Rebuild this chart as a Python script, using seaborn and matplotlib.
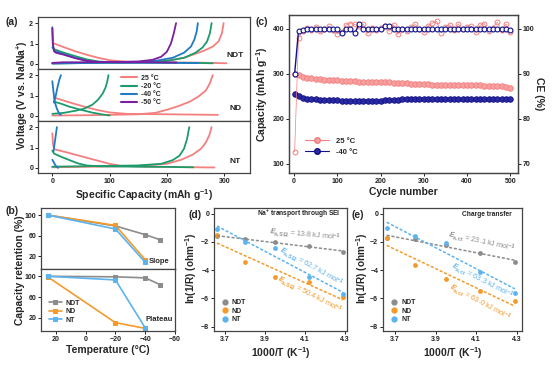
import matplotlib
matplotlib.use('Agg')
import matplotlib.pyplot as plt
from matplotlib.lines import Line2D
import seaborn as sns

# ---------------- (a) galvanostatic profiles: (capacity, voltage) ----------------
ndt_25_dis_cap = [3, 20, 40, 60, 80, 100, 130, 200, 260, 304]
ndt_25_dis_v = [1.0, 0.82, 0.62, 0.45, 0.3, 0.18, 0.1, 0.07, 0.06, 0.03]
ndt_25_chg_cap = [0, 50, 100, 150, 200, 230, 250, 265, 280, 290, 296, 299]
ndt_25_chg_v = [0.03, 0.05, 0.07, 0.09, 0.15, 0.3, 0.5, 0.65, 0.85, 1.1, 1.5, 2.0]
ndt_m20_dis_cap = [0, 3, 20, 40, 60, 80, 100, 150, 200, 250, 280]
ndt_m20_dis_v = [0.8, 0.72, 0.55, 0.38, 0.22, 0.12, 0.08, 0.07, 0.06, 0.05, 0.03]
ndt_m20_chg_cap = [0, 50, 100, 150, 200, 230, 250, 262, 270, 275, 278]
ndt_m20_chg_v = [0.02, 0.04, 0.06, 0.08, 0.15, 0.3, 0.55, 0.8, 1.1, 1.5, 2.0]
ndt_m40_dis_cap = [0, 1, 3, 20, 40, 60, 80, 120, 200, 255]
ndt_m40_dis_v = [1.8, 0.9, 0.65, 0.48, 0.3, 0.15, 0.08, 0.06, 0.05, 0.04]
ndt_m40_chg_cap = [0, 50, 100, 150, 180, 210, 230, 242, 248, 252, 254]
ndt_m40_chg_v = [0.02, 0.04, 0.06, 0.09, 0.15, 0.3, 0.55, 0.85, 1.2, 1.6, 2.0]
ndt_m50_dis_cap = [0, 1, 3, 6, 20, 40, 60, 80, 120, 180, 217]
ndt_m50_dis_v = [1.75, 1.0, 0.62, 0.55, 0.45, 0.28, 0.15, 0.1, 0.08, 0.08, 0.07]
ndt_m50_chg_cap = [0, 20, 50, 100, 150, 175, 190, 200, 207, 212, 216]
ndt_m50_chg_v = [0.05, 0.08, 0.08, 0.09, 0.12, 0.2, 0.35, 0.6, 1.0, 1.5, 2.0]

nd_25_dis_cap = [3, 20, 40, 60, 80, 100, 130, 200, 260, 289]
nd_25_dis_v = [0.9, 0.75, 0.58, 0.42, 0.28, 0.17, 0.1, 0.08, 0.06, 0.05]
nd_25_chg_cap = [0, 50, 100, 150, 180, 200, 220, 240, 255, 268, 275, 280]
nd_25_chg_v = [0.02, 0.03, 0.05, 0.08, 0.15, 0.3, 0.48, 0.7, 0.95, 1.25, 1.6, 2.0]
nd_m20_dis_cap = [3, 15, 30, 50, 70, 90, 100]
nd_m20_dis_v = [0.7, 0.6, 0.45, 0.3, 0.16, 0.06, 0.02]
nd_m20_chg_cap = [0, 20, 40, 55, 70, 80, 88, 93, 96, 98]
nd_m20_chg_v = [0.1, 0.15, 0.25, 0.35, 0.55, 0.8, 1.1, 1.4, 1.7, 2.0]
nd_m40_dis_cap = [0, 2, 4, 8, 12, 15]
nd_m40_dis_v = [1.7, 1.2, 0.7, 0.35, 0.1, 0.05]
nd_m40_chg_cap = [3, 6, 9, 12, 15]
nd_m40_chg_v = [0.65, 1.0, 1.4, 1.75, 2.0]

nt_25_dis_cap = [0, 1, 3, 20, 40, 60, 80, 100, 120, 160, 220, 283]
nt_25_dis_v = [1.7, 1.2, 0.92, 0.8, 0.65, 0.5, 0.35, 0.2, 0.1, 0.06, 0.04, 0.02]
nt_25_chg_cap = [0, 50, 100, 150, 200, 225, 245, 260, 268, 274, 278]
nt_25_chg_v = [0.03, 0.05, 0.07, 0.1, 0.2, 0.4, 0.65, 0.95, 1.25, 1.6, 2.0]
nt_m20_dis_cap = [0, 3, 15, 30, 45, 60, 80, 150, 200, 246]
nt_m20_dis_v = [0.85, 0.7, 0.55, 0.38, 0.22, 0.12, 0.08, 0.06, 0.05, 0.03]
nt_m20_chg_cap = [0, 50, 100, 150, 190, 210, 222, 230, 235, 239]
nt_m20_chg_v = [0.06, 0.08, 0.1, 0.12, 0.2, 0.38, 0.6, 0.95, 1.4, 2.0]
nt_m40_dis_cap = [0, 3, 6, 10]
nt_m40_dis_v = [0.4, 0.25, 0.1, 0.0]
nt_m40_chg_cap = [2, 4, 6, 8]
nt_m40_chg_v = [0.8, 1.2, 1.6, 2.0]

temp_labels = ['25 °C', '-20 °C', '-40 °C', '-50 °C']
temp_colors = ['#F47F7F', '#1E9B6B', '#1F7BC4', '#7A1FA0']

# ---------------- (b) capacity retention ----------------
temps = [25, -20, -40, -50]
slope_ndt = [100, 79, 62, 52]
slope_nd = [100, 80, 13]
slope_nt = [100, 73, 8]
plat_ndt = [100, 99, 97, 84]
plat_nd = [98, 11, 0]
plat_nt = [100, 93, 1]

# ---------------- (c) cycling ----------------
cycles = [1] + list(range(10, 501, 10))
cap_25 = [300, 296, 293, 291, 290, 289, 288, 287, 286, 286, 285, 284, 283, 283, 284, 282, 282,
          281, 282, 281, 281, 282, 281, 280, 279, 279, 279, 278, 278, 277, 277, 277, 276, 276,
          275, 276, 275, 275, 275, 276, 275, 274, 274, 274, 273, 273, 273, 272, 272, 271, 269]
cap_m40 = [255, 250, 247, 245, 244, 243, 242, 242, 241, 241, 241, 240, 240, 240, 239, 240, 240,
           240, 240, 240, 240, 241, 241, 242, 242, 244, 244, 244, 244, 244, 244, 244, 244, 244,
           244, 244, 244, 244, 244, 244, 244, 244, 244, 244, 244, 244, 244, 244, 244, 243, 243]
ce_25 = [72.7, 98.0, 99.6, 100.2, 99.7, 100.4, 99.5, 100.1, 100.6, 99.8, 98.9, 99.4, 100.9,
         101.2, 101.0, 100.7, 101.1, 99.0, 100.3, 99.8, 100.2, 100.6, 99.5, 100.9, 98.8, 100.0,
         99.6, 100.4, 101.0, 100.1, 99.4, 100.7, 101.3, 101.7, 99.2, 100.5, 100.9, 99.7, 101.1,
         99.9, 100.4, 100.6, 99.3, 100.8, 101.2, 99.6, 100.3, 101.5, 99.8, 101.1, 99.4]
ce_m40 = [90.0, 99.6, 99.8, 99.9, 100.0, 100.0, 100.0, 100.0, 100.0, 100.0, 100.0, 99.0, 100.0,
          100.0, 99.0, 101.0, 100.0, 100.0, 100.0, 100.0, 100.0, 100.6, 100.7, 100.0, 100.0,
          100.0, 100.0, 100.0, 100.0, 100.0, 100.0, 100.0, 100.0, 100.0, 100.0, 100.0, 100.0,
          100.0, 100.0, 100.0, 100.0, 100.0, 100.0, 100.0, 100.0, 100.0, 100.0, 100.0, 100.0,
          100.0, 99.8]

# ---------------- (d)/(e) Arrhenius ----------------
inv_t = [3.66, 3.80, 3.95, 4.12, 4.29]
sei_ndt = [-1.6, -1.8, -2.0, -2.3, -2.7]
sei_nd = [-1.5, -3.4, -4.5, -4.8, -5.9]
sei_nt = [-1.1, -2.0, -2.4, -4.5, -5.7]
ct_ndt = [-1.7, -1.8, -2.2, -2.8, -3.4]
ct_nd = [-1.7, -3.6, -4.6, -5.5, -6.2]
ct_nt = [-1.0, -1.6, -2.1, -4.1, -5.6]

sample_labels = ['NDT', 'ND', 'NT']
sample_colors = ['#8C8C8C', '#F39A2B', '#5DB3EE']

sns.set_theme(style='ticks')
plt.rcParams['font.family'] = ['Liberation Sans', 'DejaVu Sans']
plt.rcParams['font.weight'] = 'bold'
plt.rcParams['axes.labelweight'] = 'bold'
plt.rcParams['mathtext.fontset'] = 'custom'
plt.rcParams['mathtext.rm'] = 'Liberation Sans'
plt.rcParams['mathtext.it'] = 'Liberation Sans:italic'

W, H = 554, 367
fig = plt.figure(figsize=(W / 100, H / 100), dpi=100)
fig.patch.set_facecolor('white')


def add_ax(l, t, r, b):
    return fig.add_axes([l / W, 1 - b / H, (r - l) / W, (b - t) / H])


def style(ax):
    for s in ax.spines.values():
        s.set_linewidth(0.9)
        s.set_color('#444444')
    ax.tick_params(labelsize=5, width=0.7, length=2, pad=1.5, colors='#222222')
    ax.set_xlabel('')
    ax.set_ylabel('')


# ---------------- panel (a) ----------------
a_rows = [(17, 69), (69, 121), (121, 173)]
a_curves = [
    [(ndt_25_dis_cap, ndt_25_dis_v, 0), (ndt_25_chg_cap, ndt_25_chg_v, 0),
     (ndt_m20_dis_cap, ndt_m20_dis_v, 1), (ndt_m20_chg_cap, ndt_m20_chg_v, 1),
     (ndt_m40_dis_cap, ndt_m40_dis_v, 2), (ndt_m40_chg_cap, ndt_m40_chg_v, 2),
     (ndt_m50_dis_cap, ndt_m50_dis_v, 3), (ndt_m50_chg_cap, ndt_m50_chg_v, 3)],
    [(nd_25_dis_cap, nd_25_dis_v, 0), (nd_25_chg_cap, nd_25_chg_v, 0),
     (nd_m20_dis_cap, nd_m20_dis_v, 1), (nd_m20_chg_cap, nd_m20_chg_v, 1),
     (nd_m40_dis_cap, nd_m40_dis_v, 2), (nd_m40_chg_cap, nd_m40_chg_v, 2)],
    [(nt_25_dis_cap, nt_25_dis_v, 0), (nt_25_chg_cap, nt_25_chg_v, 0),
     (nt_m20_dis_cap, nt_m20_dis_v, 1), (nt_m20_chg_cap, nt_m20_chg_v, 1),
     (nt_m40_dis_cap, nt_m40_dis_v, 2), (nt_m40_chg_cap, nt_m40_chg_v, 2)],
]
a_names = ['NDT', 'ND', 'NT']
for i, (t, b) in enumerate(a_rows):
    ax = add_ax(38, t, 250, b)
    for cap, v, ci in a_curves[i]:
        sns.lineplot(x=cap, y=v, ax=ax, color=temp_colors[ci], lw=1.3,
                     sort=False, estimator=None, legend=False)
    ax.set_xlim(-25, 345)
    ax.set_ylim(-0.25, 2.3)
    ax.set_yticks([0, 1, 2])
    ax.set_xticks([0, 100, 200, 300])
    style(ax)
    if i < 2:
        ax.tick_params(labelbottom=False, bottom=False)
    ax.text(0.93, 0.26 - 0.02 * i, a_names[i], transform=ax.transAxes, ha='center',
            va='center', fontsize=6, fontweight='bold')
    if i == 1:
        handles = [Line2D([], [], color=c, lw=1.5) for c in temp_colors]
        ax.legend(handles, temp_labels, loc='upper left', bbox_to_anchor=(0.37, 0.98),
                  frameon=False, fontsize=5, handlelength=2.2, labelspacing=0.15,
                  handletextpad=0.6, borderpad=0.2)
    if i == 2:
        ax.set_xlabel('Specific Capacity (mAh g$^{-1}$)', fontsize=7.5, labelpad=1.5)
fig.text(22 / W, 1 - 95 / H, 'Voltage (V vs. Na/Na$^{+}$)', rotation=90, ha='center',
         va='center', fontsize=7.5, fontweight='bold')

# ---------------- panel (c) ----------------
ax_c = add_ax(289, 15, 518, 173)
ax_c2 = ax_c.twinx()
sns.lineplot(x=cycles, y=ce_25, ax=ax_c2, color='#F47F7F', lw=0.5, marker='o', ms=3.5,
             markerfacecolor='none', markeredgecolor='#F47F7F', markeredgewidth=0.7,
             estimator=None, legend=False)
sns.lineplot(x=cycles, y=ce_m40, ax=ax_c2, color='#10108A', lw=1.0, marker='o', ms=3.5,
             markerfacecolor='white', markeredgecolor='#10108A', markeredgewidth=0.8,
             estimator=None, legend=False)
sns.lineplot(x=cycles, y=cap_25, ax=ax_c, color='#F47F7F', lw=0.6, marker='o', ms=4,
             markerfacecolor='#F7A0A0', markeredgecolor='#F47F7F', markeredgewidth=0.6,
             estimator=None, legend=False)
sns.lineplot(x=cycles, y=cap_m40, ax=ax_c, color='#10108A', lw=0.6, marker='o', ms=4,
             markerfacecolor='#2A2AA0', markeredgecolor='#10108A', markeredgewidth=0.6,
             estimator=None, legend=False)
ax_c.set_xlim(-12, 518)
ax_c.set_ylim(80, 430)
ax_c2.set_ylim(68, 103.1)
ax_c.set_xticks(range(0, 501, 100))
ax_c.set_yticks([100, 200, 300, 400])
ax_c2.set_yticks([70, 80, 90, 100])
style(ax_c)
style(ax_c2)
ax_c.set_xlabel('Cycle number', fontsize=7.5, labelpad=1.5)
ax_c.set_ylabel('Capacity (mAh g$^{-1}$)', fontsize=7.5, labelpad=2)
ax_c2.set_ylabel('CE (%)', fontsize=7.5, rotation=270, labelpad=7)
c_handles = [Line2D([], [], color='#F47F7F', lw=0.8, marker='o', ms=4,
                    markerfacecolor='#F7A0A0', markeredgecolor='#F47F7F'),
             Line2D([], [], color='#10108A', lw=0.8, marker='o', ms=4,
                    markerfacecolor='#2A2AA0', markeredgecolor='#10108A')]
ax_c.legend(c_handles, ['25 °C', '-40 °C'], loc='upper left', bbox_to_anchor=(0.04, 0.27),
            frameon=False, fontsize=5.5, handlelength=3.2, labelspacing=0.5)

# ---------------- panel (b) ----------------
b_top = add_ax(41, 208, 175, 269)
b_bot = add_ax(41, 269, 175, 331)
for ax, series, tag, ty in [(b_top, [slope_ndt, slope_nd, slope_nt], 'Slope', 0.12),
                            (b_bot, [plat_ndt, plat_nd, plat_nt], 'Plateau', 0.19)]:
    for vals, lab, col in zip(series, sample_labels, sample_colors):
        sns.lineplot(x=temps[:len(vals)], y=vals, ax=ax, color=col, lw=1.2, marker='s',
                     ms=2.8, markeredgecolor=col, label=lab, sort=False, estimator=None)
    ax.set_xlim(30, -57)
    ax.set_ylim(-5, 114)
    ax.set_yticks([20, 60, 100])
    ax.set_xticks([20, 0, -20, -40, -60])
    style(ax)
    ax.text(0.88, ty, tag, transform=ax.transAxes, ha='center', va='center', fontsize=5.5,
            fontweight='bold')
b_top.tick_params(labelbottom=False, bottom=False)
b_top.get_legend().remove()
b_bot.legend(loc='upper left', bbox_to_anchor=(0.02, 0.58), frameon=False, fontsize=5,
             handlelength=2.0, labelspacing=0.2, handletextpad=0.4, borderpad=0.2)
b_bot.set_xlabel('Temperature (°C)', fontsize=7.5, labelpad=1.5)
fig.text(20 / W, 1 - 270 / H, 'Capacity retention (%)', rotation=90, ha='center',
         va='center', fontsize=7.5, fontweight='bold')

# ---------------- panels (d), (e) ----------------
# annotation order follows sample order: NDT (gray), ND (orange), NT (blue)
arr_panels = [
    (add_ax(214, 208, 347, 331), [sei_ndt, sei_nd, sei_nt], (3.645, 4.31),
     'Na$^{+}$ transport through SEI', 0.64,
     [(4.10, -1.50, -5, r'$E_{\mathrm{a,SEI}}$ = 13.8 kJ mol$^{-1}$'),
      (4.125, -5.73, -27, r'$E_{\mathrm{a,SEI}}$ = 50.4 kJ mol$^{-1}$'),
      (4.13, -3.72, -29, r'$E_{\mathrm{a,SEI}}$ = 62.7 kJ mol$^{-1}$')], 191),
    (add_ax(383, 208, 522, 331), [ct_ndt, ct_nd, ct_nt], (3.642, 4.325),
     'Charge transfer', 0.75,
     [(4.127, -2.02, -12, r'$E_{\mathrm{a,ct}}$ = 23.1 kJ mol$^{-1}$'),
      (4.119, -6.28, -28, r'$E_{\mathrm{a,ct}}$ = 63.0 kJ mol$^{-1}$'),
      (4.131, -4.74, -27, r'$E_{\mathrm{a,ct}}$ = 63.3 kJ mol$^{-1}$')], 362),
]
for ax, series, xl, title, tx, notes, ylx in arr_panels:
    for vals, lab, col in zip(series, sample_labels, sample_colors):
        sns.regplot(x=inv_t, y=vals, ax=ax, ci=None, color=col,
                    scatter_kws=dict(s=12, linewidths=0, alpha=1),
                    line_kws=dict(ls=(0, (2, 1.2)), lw=1.1), label=lab)
    for (nx, ny, rot, txt), col in zip(notes, sample_colors):
        ax.text(nx, ny, txt, rotation=rot, color=col, ha='center', va='center', fontsize=5.2,
                fontweight='normal', rotation_mode='anchor')
    ax.set_xlim(*xl)
    ax.set_ylim(-8.3, 0.4)
    ax.set_xticks([3.7, 3.9, 4.1, 4.3])
    ax.set_yticks([0, -2, -4, -6, -8])
    style(ax)
    ax.text(tx, 0.95, title, transform=ax.transAxes, ha='center', va='center', fontsize=4.8,
            fontweight='bold')
    s_handles = [Line2D([], [], ls='none', marker='o', ms=3.5, color=c) for c in sample_colors]
    ax.legend(s_handles, sample_labels, loc='upper left', bbox_to_anchor=(0.02, 0.3),
              frameon=False, fontsize=5, handlelength=1.0, labelspacing=0.25,
              handletextpad=0.5, borderpad=0.2)
    ax.set_xlabel('1000/T (K$^{-1}$)', fontsize=7.5, labelpad=1.5)
    fig.text(ylx / W, 1 - 268 / H, 'ln(1/R) (ohm$^{-1}$)', rotation=90, ha='center',
             va='center', fontsize=7.2, fontweight='bold')

for lab, x, y in [('(a)', 12, 22), ('(c)', 262, 22), ('(b)', 12, 211), ('(d)', 195, 215),
                  ('(e)', 358, 215)]:
    fig.text(x / W, 1 - y / H, lab, ha='center', va='center', fontsize=7.5, fontweight='bold')

fig.savefig('out.png', dpi=100)
